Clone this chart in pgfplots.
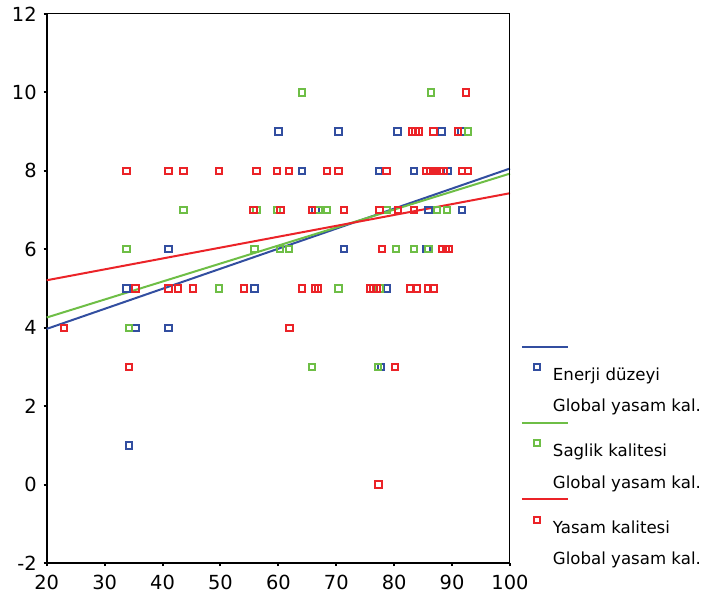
\documentclass[border=0pt]{standalone}
\usepackage{fontspec}
\setmainfont{DejaVu Sans}
\usepackage{pgfplots}
\pgfplotsset{compat=1.18}
\definecolor{cBlue}{RGB}{50,78,160}
\definecolor{cGreen}{RGB}{110,190,70}
\definecolor{cRed}{RGB}{235,35,40}
\newcommand{\legimg}[1]{%
  \draw[#1, line width=1pt, overlay, fill=none] (-7.5pt,22.75pt) -- (15.5pt,22.75pt);
  \draw[#1, line width=1pt, fill=none] (-1.5pt,11.1pt) rectangle (1.5pt,14.1pt);
  \path[draw=none, fill=none] (-7.5pt,-1pt) rectangle (8pt,23.15pt);}
\begin{document}
\begin{tikzpicture}
\begin{axis}[
  name=ax,
  scale only axis,
  width=231.65pt, height=274.5pt,
  xmin=20, xmax=100, ymin=-2, ymax=12,
  xtick distance=10, ytick distance=2,
  axis x line*=bottom, axis y line*=left,
  axis line style={line width=1pt, black},
  tick style={line width=1pt, black},
  major tick length=1.5pt,
  tick align=outside,
  /pgf/number format/assume math mode=true,
  tick label style={font=\fontsize{9.7}{11}\selectfont},
  xticklabel style={yshift=-1pt},
  clip=false,
  legend cell align=left,
  legend style={at={(rel axis cs:1,1)}, anchor=north west, xshift=6pt, yshift=-165.95pt,
    draw=none, fill=none, inner sep=0pt, outer sep=0pt, column sep=0pt, row sep=2.25pt,
    font=\fontsize{8.3}{10}\selectfont,
    nodes={inner sep=0pt, text depth=}},
]
% Enerji duzeyi
\addplot[only marks, mark=square, mark size=1.6pt, cBlue, mark options={line width=1pt}, forget plot] coordinates {
(60,9) (70.4,9) (80.6,9) (88.2,9) (91.6,9)
(64.1,8) (77.4,8) (83.4,8) (89.2,8)
(66.4,7) (85.9,7) (91.7,7)
(41.0,6) (71.3,6) (85.6,6)
(33.8,5) (55.9,5) (78.8,5)
(35.3,4) (41.0,4)
(77.7,3)
(34.2,1)
};
% Saglik kalitesi
\addplot[only marks, mark=square, mark size=1.6pt, cGreen, mark options={line width=1pt}, forget plot] coordinates {
(64.1,10) (86.4,10)
(92.7,9)
(86.8,8)
(43.6,7) (56.2,7) (59.8,7) (66.9,7) (68.4,7) (78.7,7) (87.4,7) (89.1,7)
(33.8,6) (55.9,6) (60.3,6) (61.8,6) (80.3,6) (83.4,6) (85.9,6)
(49.8,5) (70.4,5) (77.5,5)
(34.2,4)
(65.8,3) (77.2,3)
};
% Yasam kalitesi
\addplot[only marks, mark=square, mark size=1.6pt, cRed, mark options={line width=1pt}, forget plot] coordinates {
(92.4,10)
(83.1,9) (83.7,9) (84.3,9) (86.8,9) (91.0,9)
(33.8,8) (41.0,8) (43.6,8) (49.8,8) (56.2,8) (59.8,8) (61.8,8) (68.4,8) (70.4,8) (78.7,8)
(85.6,8) (86.3,8) (87.1,8) (87.8,8) (88.5,8) (91.7,8) (92.8,8)
(55.7,7) (60.4,7) (65.8,7) (71.3,7) (77.5,7) (80.7,7) (83.4,7)
(77.9,6) (88.3,6) (88.9,6) (89.5,6)
(35.3,5) (41.0,5) (42.7,5) (45.3,5) (54.1,5) (64.1,5) (66.3,5) (66.8,5) (75.8,5) (76.4,5) (77.0,5)
(82.7,5) (83.9,5) (85.8,5) (86.8,5)
(23.0,4) (61.9,4)
(34.2,3) (80.1,3)
(77.3,0)
};
% fit lines
\addplot[cBlue, line width=1pt, forget plot] coordinates {(20,3.97) (100,8.06)};
\addplot[cGreen, line width=1pt, forget plot] coordinates {(20,4.26) (100,7.93)};
\addplot[cRed, line width=1pt, forget plot] coordinates {(20,5.21) (100,7.43)};
\draw[line width=0.5pt, black] (rel axis cs:0,1) -- (rel axis cs:1,1) -- (rel axis cs:1,0);
\addlegendimage{legend image code/.code={\legimg{cBlue}}}
\addlegendentry{\begin{tabular}[t]{@{}l@{}}Enerji düzeyi\\[5.5pt]Global yasam kal.\end{tabular}}
\addlegendimage{legend image code/.code={\legimg{cGreen}}}
\addlegendentry{\begin{tabular}[t]{@{}l@{}}Saglik kalitesi\\[5.5pt]Global yasam kal.\end{tabular}}
\addlegendimage{legend image code/.code={\legimg{cRed}}}
\addlegendentry{\begin{tabular}[t]{@{}l@{}}Yasam kalitesi\\[5.5pt]Global yasam kal.\end{tabular}}
\end{axis}
\pgfresetboundingbox
\path ([shift={(-23.35pt,-17.5pt)}]ax.south west) rectangle ++(352.5pt,299pt);
\end{tikzpicture}
\end{document}
